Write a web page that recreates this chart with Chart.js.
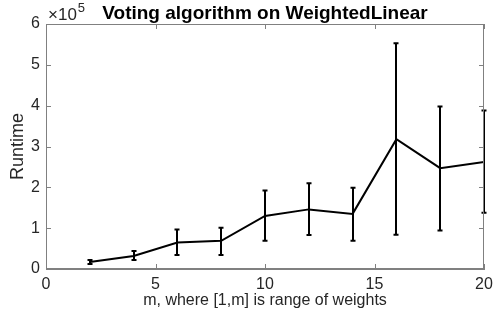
<!DOCTYPE html>
<html>
<head>
<meta charset="utf-8">
<script src="https://cdn.jsdelivr.net/npm/chart.js@4/dist/chart.umd.min.js"></script>
<style>
  html, body { margin: 0; padding: 0; background: #fff; }
  #wrap { width: 494px; height: 328px; }
</style>
</head>
<body>
<div id="wrap"><canvas id="c" width="494" height="328"></canvas></div>
<script>
// ---- data (runtime values) ----
const mValues   = [2, 4, 6, 8, 10, 12, 14, 16, 18, 20];
const meanRuntime = [17000, 32000, 65000, 69000, 130000, 146000, 135000, 318000, 247000, 262000];
const lowRuntime  = [12000, 22000, 34000, 34000, 69000, 83000, 69000, 84000, 94000, 138000];
const highRuntime = [22000, 44000, 97000, 101000, 192000, 210000, 199000, 553000, 398000, 388000];
const xTicks = [0, 5, 10, 15, 20];
const yTicks = [0, 1, 2, 3, 4, 5, 6]; // in units of 10^5
const titleText = 'Voting algorithm on WeightedLinear';
const xTitle = 'm, where [1,m] is range of weights';
const yTitle = 'Runtime';

const axisColor = '#262626';
const FONT = '"Liberation Sans", Arial, Helvetica, sans-serif';

const decorPlugin = {
  id: 'decor',
  afterDatasetsDraw(chart) {
    const ctx = chart.ctx;
    const xs = chart.scales.x, ys = chart.scales.y;
    ctx.save();
    ctx.strokeStyle = '#000';
    ctx.lineWidth = 2;
    for (let i = 0; i < mValues.length; i++) {
      const px = Math.round(xs.getPixelForValue(mValues[i]));
      const pl = ys.getPixelForValue(lowRuntime[i]);
      const ph = ys.getPixelForValue(highRuntime[i]);
      ctx.beginPath();
      ctx.moveTo(px, pl); ctx.lineTo(px, ph);
      ctx.moveTo(px - 2.5, pl); ctx.lineTo(px + 2.5, pl);
      ctx.moveTo(px - 2.5, ph); ctx.lineTo(px + 2.5, ph);
      ctx.stroke();
    }
    ctx.restore();
  },
  afterDraw(chart) {
    const ctx = chart.ctx;
    const a = chart.chartArea;
    const xs = chart.scales.x, ys = chart.scales.y;
    ctx.save();
    ctx.strokeStyle = '#808080';
    ctx.lineWidth = 1;
    ctx.strokeRect(Math.round(a.left) + 0.5, Math.round(a.top) + 0.5,
                   Math.round(a.right - a.left) - 1, Math.round(a.bottom - a.top) - 1);
    const tl = 5;
    ctx.beginPath();
    xTicks.forEach(v => {
      const px = Math.round(xs.getPixelForValue(v)) + 0.5;
      ctx.moveTo(px, a.bottom); ctx.lineTo(px, a.bottom - tl);
      ctx.moveTo(px, a.top); ctx.lineTo(px, a.top + tl);
    });
    yTicks.forEach(v => {
      const py = Math.round(ys.getPixelForValue(v * 1e5)) + 0.5;
      ctx.moveTo(a.left, py); ctx.lineTo(a.left + tl, py);
      ctx.moveTo(a.right, py); ctx.lineTo(a.right - tl, py);
    });
    ctx.stroke();
    // title
    ctx.fillStyle = '#000';
    ctx.font = 'bold 19px ' + FONT;
    ctx.textAlign = 'center';
    ctx.textBaseline = 'alphabetic';
    ctx.fillText(titleText, (a.left + a.right) / 2, 19);
    // exponent label
    ctx.fillStyle = axisColor;
    ctx.textAlign = 'left';
    ctx.font = '17px ' + FONT;
    ctx.fillText('\u00d710', a.left + 2, 20);
    const w = ctx.measureText('\u00d710').width;
    ctx.font = '13px ' + FONT;
    ctx.fillText('5', a.left + 2 + w + 1, 12);
    ctx.restore();
  }
};

new Chart(document.getElementById('c'), {
  type: 'line',
  data: {
    datasets: [{
      data: mValues.map((m, i) => ({ x: m, y: meanRuntime[i] })),
      borderColor: '#000',
      borderWidth: 2,
      pointRadius: 0,
      fill: false,
      tension: 0
    }]
  },
  options: {
    responsive: false,
    animation: false,
    devicePixelRatio: 1,
    layout: { padding: { top: 24, right: 10, left: 7, bottom: 18 } },
    plugins: { legend: { display: false }, title: { display: false }, tooltip: { enabled: false } },
    scales: {
      x: {
        type: 'linear', min: 0, max: 20,
        afterBuildTicks(s) { s.ticks = xTicks.map(v => ({ value: v })); },
        afterFit(s) { s.height = 41; s.paddingRight = 0; s.paddingLeft = 0; },
        grid: { display: false, drawTicks: false },
        border: { display: true, color: '#808080', width: 1 },
        ticks: { color: axisColor, font: { family: FONT, size: 16 }, padding: 6, maxRotation: 0 },
        title: { display: true, text: xTitle, color: axisColor, font: { family: FONT, size: 16 }, padding: { top: 0, bottom: 0 } }
      },
      y: {
        type: 'linear', min: 0, max: 600000,
        afterBuildTicks(s) { s.ticks = yTicks.map(v => ({ value: v * 1e5 })); },
        afterFit(s) { s.width = 39; s.paddingTop = 0; s.paddingBottom = 0; },
        grid: { display: false, drawTicks: false },
        border: { display: true, color: '#808080', width: 1 },
        ticks: { color: axisColor, font: { family: FONT, size: 16 }, padding: 6,
                 callback: v => String(v / 1e5) },
        title: { display: true, text: yTitle, color: axisColor, font: { family: FONT, size: 18 }, padding: { top: 0, bottom: 0 } }
      }
    }
  },
  plugins: [decorPlugin]
});
</script>
</body>
</html>
